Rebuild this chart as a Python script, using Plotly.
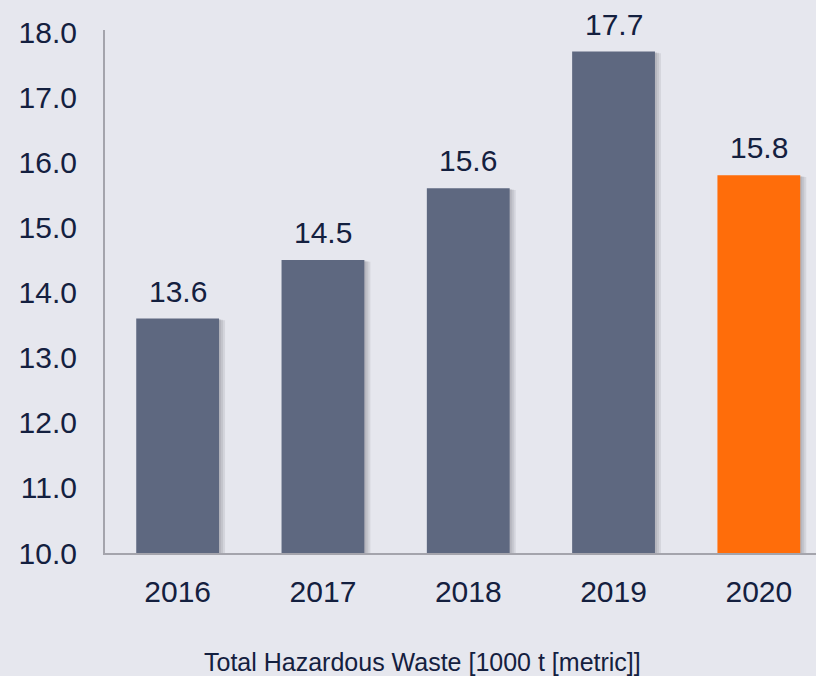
import plotly.graph_objects as go

years = ["2016", "2017", "2018", "2019", "2020"]
values = [13.6, 14.5, 15.6, 17.7, 15.8]
labels = ["13.6", "14.5", "15.6", "17.7", "15.8"]
colors = ["#5e6880", "#5e6880", "#5e6880", "#5e6880", "#ff6d0a"]
y_ticks = [10, 11, 12, 13, 14, 15, 16, 17, 18]
y_tick_text = ["10.0", "11.0", "12.0", "13.0", "14.0", "15.0", "16.0", "17.0", "18.0"]
x_title = "Total Hazardous Waste [1000 t [metric]]"

BG = "#e6e7ee"
TXT = "#14203f"
FONT = "Liberation Sans, Arial, sans-serif"
BW = 0.57
PX_PER_CAT = 145.3
PX_PER_Y = 65.1

fig = go.Figure()

# soft shadow layers
for sh in [2, 4, 6]:
    fig.add_trace(go.Bar(
        x=years, y=[v - 10 - sh / PX_PER_Y * 0.3 for v in values], base=10,
        width=BW, offset=-BW / 2 + sh / PX_PER_CAT,
        marker=dict(color="rgba(60,60,70,0.10)", line=dict(width=0)),
        hoverinfo="skip", showlegend=False,
    ))

fig.add_trace(go.Bar(
    x=years, y=[v - 10 for v in values], base=10,
    width=BW, offset=-BW / 2,
    marker=dict(color=colors, line=dict(width=0)),
    showlegend=False,
))

for i, (v, t) in enumerate(zip(values, labels)):
    fig.add_annotation(x=i, y=v, xref="x", yref="y", text=t, showarrow=False,
                       yanchor="bottom", yshift=9,
                       font=dict(size=30, color=TXT, family=FONT))

fig.add_annotation(xref="paper", yref="paper", x=0.446, y=-0.208, text=x_title,
                   showarrow=False, xanchor="center", yanchor="middle",
                   font=dict(size=25, color=TXT, family=FONT))

fig.update_layout(
    width=816, height=676,
    margin=dict(l=105, r=0, t=30, b=123),
    paper_bgcolor=BG, plot_bgcolor=BG,
    barmode="overlay",
    font=dict(family=FONT, color=TXT, size=30),
    xaxis=dict(
        type="category", range=[-0.5, -0.5 + 711 / PX_PER_CAT],
        showline=True, linecolor="#a4a4ac", linewidth=2,
        ticks="outside", ticklen=11, tickcolor="rgba(0,0,0,0)",
        tickfont=dict(size=30, color=TXT), showgrid=False, zeroline=False,
    ),
    yaxis=dict(
        range=[10, 18 + 2 / PX_PER_Y], tickvals=y_ticks, ticktext=y_tick_text,
        showline=True, linecolor="#a4a4ac", linewidth=2,
        ticks="outside", ticklen=20, tickcolor="rgba(0,0,0,0)",
        tickfont=dict(size=30, color=TXT), showgrid=False, zeroline=False,
    ),
)

fig.write_html("out.html", config={"displayModeBar": False},
               post_script="document.body.style.margin='0';document.body.style.overflow='hidden';")
